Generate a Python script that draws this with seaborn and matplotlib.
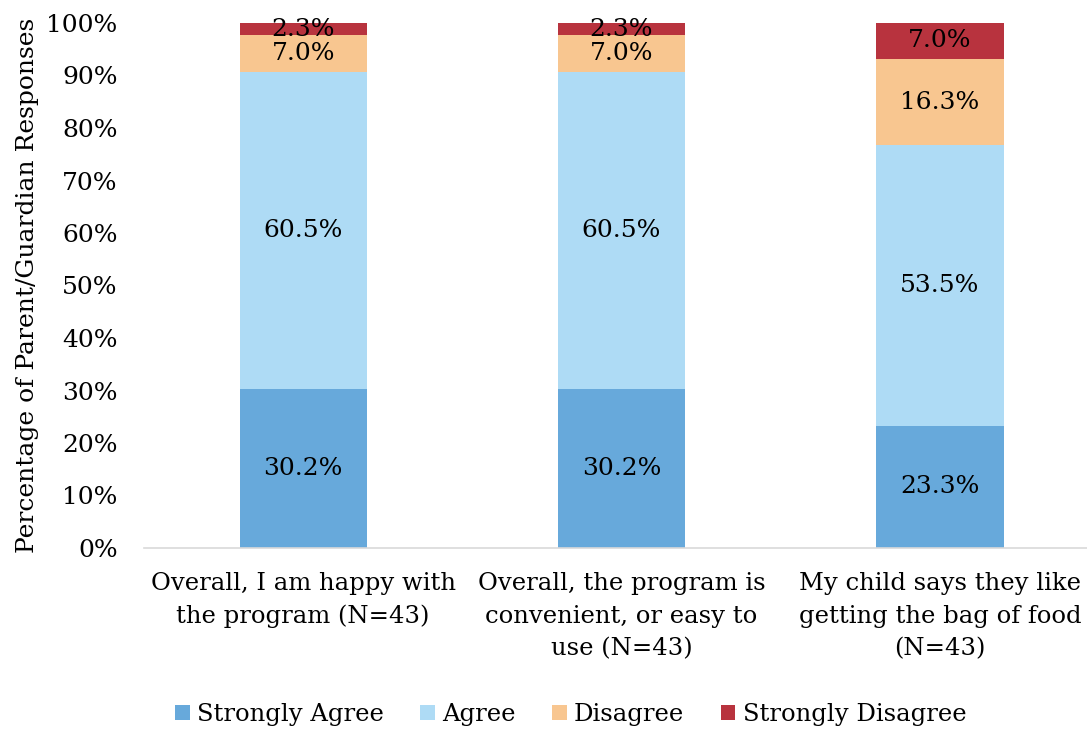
import matplotlib
matplotlib.use("Agg")
import matplotlib.pyplot as plt
import seaborn as sns
import numpy as np
from matplotlib.patches import Patch

categories = ["Overall, I am happy with\nthe program (N=43)",
              "Overall, the program is\nconvenient, or easy to\nuse (N=43)",
              "My child says they like\ngetting the bag of food\n(N=43)"]
series_names = ["Strongly Agree", "Agree", "Disagree", "Strongly Disagree"]
strongly_agree = [30.2, 30.2, 23.3]
agree = [60.5, 60.5, 53.5]
disagree = [7.0, 7.0, 16.3]
strongly_disagree = [2.3, 2.3, 7.0]
colors = ["#67A9DB", "#AEDBF5", "#F8C690", "#B8333E"]
y_ticks = [0, 10, 20, 30, 40, 50, 60, 70, 80, 90, 100]

sns.set_theme(style="white")
plt.rcParams['font.family'] = ['DejaVu Serif']

fig = plt.figure(figsize=(10.87, 7.32), dpi=100)
ax = fig.add_axes([144/1087, (732-548)/732, 1 - 144/1087, (548-23)/732])

values = [strongly_agree, agree, disagree, strongly_disagree]
bottom = np.zeros(len(categories))
xs = np.arange(len(categories))
for name, vals, col in zip(series_names, values, colors):
    sns.barplot(x=categories, y=vals, bottom=bottom, color=col, width=0.4,
                ax=ax, linewidth=0, saturation=1, order=categories)
    for i, v in enumerate(vals):
        ax.text(i, bottom[i] + v / 2, f"{v:.1f}%", ha="center", va="center",
                fontsize=18, color="black")
    bottom = bottom + np.array(vals)

ax.set_ylim(0, 100)
ax.set_xlim(-0.5, 2.462)
ax.set_yticks(y_ticks)
ax.set_yticklabels([f"{t}%" for t in y_ticks], fontsize=18, color="black")
ax.set_xticks(xs)
ax.set_xticklabels(categories, fontsize=17.5, linespacing=1.55, color="black")
ax.tick_params(axis="x", length=0, pad=17)
ax.tick_params(axis="y", length=0, pad=19)
ax.set_ylabel("Percentage of Parent/Guardian Responses", fontsize=18,
              labelpad=5, color="black")
for s in ["top", "right", "left"]:
    ax.spines[s].set_visible(False)
ax.spines["bottom"].set_color("#D9D9D9")
ax.spines["bottom"].set_linewidth(1.2)

handles = [Patch(facecolor=c, edgecolor="none") for c in colors]
fig.legend(handles, series_names, loc="center", bbox_to_anchor=(0.525, 0.024),
           ncol=4, frameon=False, fontsize=17.5, handlelength=0.6, handleheight=0.6,
           columnspacing=1.5, handletextpad=0.3, labelcolor="black")

fig.savefig("out.png", dpi=100)
